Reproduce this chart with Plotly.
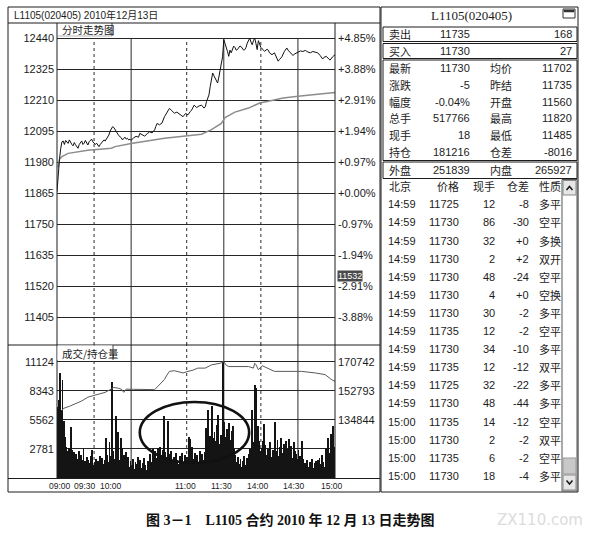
import plotly.graph_objects as go

W, H = 599, 536

# ---------------- data ----------------
header_text = "L1105(020405) 2010年12月13日"
price_panel_title = "分时走势图"
volume_panel_title = "成交/持仓量"
cursor_value = "11532"
caption_text = "<b>图 3－1　L1105 合约 2010 年 12 月 13 日走势图</b>"
watermark_text = "ZX110.com"

price_ticks = [12440, 12325, 12210, 12095, 11980, 11865, 11750, 11635, 11520, 11405]
pct_labels = ["+4.85%", "+3.88%", "+2.91%", "+1.94%", "+0.97%", "+0.00%",
              "-0.97%", "-1.94%", "-2.91%", "-3.88%"]
vol_ticks = [2781, 5562, 8343, 11124]
oi_ticks = [134844, 152793, 170742]
time_labels = ["09:00", "09:30", "10:00", "11:00", "11:30", "14:00", "14:30", "15:00"]

grid_solid_minutes = [60, 135, 195]
grid_dot_minutes = [30, 105, 165]

price_minutes = [0, 1, 2, 3, 4, 5, 6, 7, 8, 9, 10, 11, 12, 13, 14, 15, 16, 17, 18, 19,
                 20, 21, 22, 23, 24, 25, 26, 27, 28, 29, 30, 31, 32, 33, 34, 35, 36, 37, 38, 39,
                 40, 41, 42, 43, 44, 45, 46, 47, 48, 49, 50, 51, 52, 53, 54, 55, 56, 57, 58, 59,
                 60, 62, 64, 66, 67, 69, 71, 73, 75, 77, 79, 80, 81, 83, 85, 87, 89, 91, 93, 95,
                 97, 99, 101, 102, 104, 106, 108, 109, 111, 113, 115, 117, 119, 120, 121, 122, 123, 124, 125, 126,
                 127, 128, 129, 130, 131, 132, 133, 134, 135, 136, 137, 138, 139, 140, 141, 142, 143, 144, 145, 146,
                 147, 148, 149, 150, 151, 152, 153, 154, 155, 156, 157, 158, 159, 160, 161, 162, 163, 164, 165, 166,
                 167, 168, 170, 171, 172, 174, 176, 177, 179, 180, 182, 184, 186, 187, 189, 191, 192, 194, 196, 197,
                 199, 201, 203, 205, 207, 209, 211, 213, 215, 216, 218, 220, 221, 223, 225]
price_values = [11870, 11940, 11990, 12030, 12055, 12058, 12045, 12060, 12052, 12049,
                12062, 12050, 12045, 12040, 12052, 12044, 12036, 12031, 12045, 12052,
                12058, 12045, 12050, 12060, 12050, 12043, 12055, 12062, 12065, 12055,
                12050, 12045, 12050, 12042, 12037, 12045, 12050, 12055, 12062, 12058,
                12065, 12068, 12080, 12095, 12105, 12111, 12108, 12100, 12095, 12085,
                12078, 12074, 12070, 12062, 12066, 12072, 12065, 12068, 12062, 12065,
                12060, 12070, 12075, 12072, 12086, 12080, 12076, 12085, 12092, 12088,
                12099, 12112, 12123, 12118, 12125, 12148, 12165, 12179, 12170, 12161,
                12165, 12158, 12152, 12148, 12160, 12155, 12168, 12173, 12191, 12182,
                12188, 12191, 12180, 12185, 12204, 12215, 12229, 12260, 12290, 12310,
                12300, 12290, 12280, 12273, 12295, 12320, 12340, 12370, 12434, 12420,
                12409, 12390, 12372, 12395, 12385, 12400, 12410, 12405, 12395, 12397,
                12405, 12410, 12408, 12400, 12395, 12397, 12405, 12421, 12430, 12440,
                12425, 12415, 12430, 12440, 12420, 12397, 12430, 12415, 12405, 12400,
                12395, 12391, 12398, 12395, 12385, 12378, 12385, 12375, 12354, 12360,
                12370, 12390, 12403, 12395, 12385, 12375, 12380, 12385, 12390, 12392,
                12390, 12394, 12388, 12385, 12390, 12388, 12385, 12375, 12362, 12368,
                12372, 12362, 12358, 12370, 12378]

avg_minutes = [1, 2, 4, 9, 25, 44, 47, 60, 87, 117, 125, 130, 133, 136, 139, 144,
               155, 164, 171, 183, 197, 209, 225]
avg_values = [11960, 11990, 12000, 12012, 12024, 12031, 12037, 12049, 12068, 12083,
              12100, 12115, 12123, 12145, 12152, 12165, 12180, 12199, 12205, 12217,
              12225, 12230, 12238]

oi_minutes = [4, 5, 10, 15, 20, 25, 31, 39, 44, 46, 50, 52, 54, 56, 62, 69, 75, 79, 82, 85,
              87, 89, 91, 95, 99, 102, 106, 110, 114, 120, 125, 129, 132, 135, 137, 139, 147, 155, 159, 160,
              161, 163, 166, 176, 187, 198, 209, 217, 222, 225]
oi_values = [140500, 141844, 143200, 144836, 146500, 148844, 150200, 151835, 153900, 154827,
             154300, 153810, 151835, 153810, 153700, 153810, 153600, 153510, 155785, 158000,
             159793, 162500, 164759, 165178, 164300, 163802, 164759, 165500, 166793, 166793,
             168768, 169300, 169785, 170742, 168500, 167751, 167751, 167751, 166793, 169785,
             168900, 165776, 168300, 164759, 164759, 164759, 163802, 162785, 159793, 158597]

volume = [6800, 7500, 10000, 6500, 9400, 5500, 3900, 3000, 2600, 2900, 2200, 4900, 2700, 2500, 2100,
          2300, 1800, 2600, 1500, 2200, 1700, 2900, 1600, 1300, 2000, 1700, 1400, 2100, 2700, 1200,
          1500, 1800, 1200, 1600, 2100, 1400, 1900, 1300, 1700, 3800, 2200, 1500, 3400, 2100, 9200,
          2600, 1800, 5900, 2400, 4400, 1700, 3800, 2900, 1500, 2200, 2500, 1300, 2000, 1100, 1600,
          1200, 1800, 900, 1500, 1300, 2000, 1100, 1700, 1000, 1400, 1900, 1200, 800, 1600, 1300,
          2300, 1500, 2800, 2000, 2600, 1900, 2900, 2400, 3000, 2200, 2700, 5900, 2500, 2000, 5500,
          2300, 1800, 2600, 1600, 2000, 1500, 2400, 1700, 1300, 2100, 1800, 2400, 1400, 2200, 1600,
          2000, 3900, 3700, 2100, 3000, 1800, 2400, 1600, 2200, 1500, 2600, 1900, 2300, 1700, 2500,
          4800, 3000, 6500, 4000, 3200, 6900, 3800, 4400, 3500, 5100, 6000, 3300, 4100, 2800, 11124,
          5400, 3900, 4700, 3000, 5300, 3600, 4500, 5000, 2800, 2200, 1500, 2000, 1300, 1800, 1100,
          1600, 2100, 1200, 1900, 1400, 2300, 2800, 6500, 3400, 1800, 8900, 8600, 5000, 3500, 2600,
          2900, 3500, 5200, 3200, 2200, 2800, 2500, 3400, 2000, 2700, 2300, 5400, 2600, 3600, 2100,
          3000, 3800, 2400, 3300, 2000, 3500, 2800, 3700, 2200, 3100, 1900, 3400, 2600, 2300, 1800,
          2700, 2100, 1600, 3500, 1800, 1400, 1200, 1700, 1100, 1500, 1300, 1800, 1000, 1400, 1600,
          1200, 1700, 1900, 1300, 2200, 1500, 1100, 2900, 1600, 3800, 2400, 4200, 2800, 5000, 3000]

quote_title = "L1105(020405)"
quote_left_labels = ["卖出", "买入", "最新", "涨跌", "幅度", "总手", "现手", "持仓", "外盘"]
quote_left_values = ["11735", "11730", "11730", "-5", "-0.04%", "517766", "18", "181216", "251839"]
quote_right_labels = ["", "", "均价", "昨结", "开盘", "最高", "最低", "仓差", "内盘"]
quote_right_values = ["168", "27", "11702", "11735", "11560", "11820", "11485", "-8016", "265927"]

tick_header = ["北京", "价格", "现手", "仓差", "性质"]
tick_times = ["14:59"] * 12 + ["15:00"] * 4
tick_prices = ["11725", "11730", "11730", "11730", "11730", "11730", "11730", "11735",
               "11730", "11735", "11725", "11730", "11735", "11730", "11735", "11730"]
tick_vols = ["12", "86", "32", "2", "48", "4", "30", "12", "34", "12", "32", "48", "14", "2", "6", "18"]
tick_oi_chg = ["-8", "-30", "+0", "+2", "-24", "+0", "-2", "-2", "-10", "-12", "-22", "-44",
               "-12", "-2", "-2", "-4"]
tick_nature = ["多平", "空平", "多换", "双开", "空平", "空换", "多平", "空平",
               "多平", "双平", "多平", "多平", "空平", "双平", "空平", "多平"]

# ---------------- layout helpers (pixel -> paper) ----------------
def X(x):
    return x / W


def Y(y):
    return 1 - y / H


PLOT_L, PLOT_R = 57, 335
P_TOP, P_BOT = 23, 345
V_TOP, V_BOT = 345, 478
PX_P_FIRST, PX_P_STEP = 38, 31.0        # pixel of first price tick, pixel per tick step
PX_V_MAX = 361.7                         # pixel of top volume tick

p_step = price_ticks[0] - price_ticks[1]


def price_at(ypx):
    return price_ticks[0] - (ypx - PX_P_FIRST) * p_step / PX_P_STEP


p_range = [price_at(P_BOT), price_at(P_TOP)]
vol_per_px = vol_ticks[-1] / (V_BOT - PX_V_MAX)
v_range = [0, (V_BOT - V_TOP) * vol_per_px]
oi_per_vol = (oi_ticks[2] - oi_ticks[1]) / (vol_ticks[3] - vol_ticks[2])
oi_base = oi_ticks[2] - vol_ticks[3] * oi_per_vol
oi_range = [oi_base, oi_base + v_range[1] * oi_per_vol]
x_range = [0, 225]
bar_x = [i + 0.5 for i in range(len(volume))]

INK = "#1c1c1c"
NUMFONT = "Liberation Sans, Noto Sans CJK SC"
CJKFONT = "Noto Sans CJK SC"

fig = go.Figure()
fig.add_trace(go.Bar(x=bar_x, y=volume, xaxis="x2", yaxis="y3",
                     marker=dict(color="#141414", line=dict(width=0)), width=0.7,
                     hoverinfo="skip"))
fig.add_trace(go.Scatter(x=oi_minutes, y=oi_values, xaxis="x2", yaxis="y4", mode="lines",
                         line=dict(color="#5a5a5a", width=1), hoverinfo="skip"))
fig.add_trace(go.Scatter(x=avg_minutes, y=avg_values, xaxis="x", yaxis="y", mode="lines",
                         line=dict(color="#8c8c8c", width=1.5), hoverinfo="skip"))
fig.add_trace(go.Scatter(x=price_minutes, y=price_values, xaxis="x", yaxis="y", mode="lines",
                         line=dict(color="#111111", width=1), hoverinfo="skip"))
fig.add_trace(go.Scatter(x=[0], y=[price_ticks[0]], xaxis="x", yaxis="y2", mode="markers",
                         marker=dict(opacity=0), hoverinfo="skip"))

shapes = []


def pline(x0, y0, x1, y1, color=INK, width=1, dash="solid"):
    shapes.append(dict(type="line", xref="paper", yref="paper", x0=X(x0), y0=Y(y0),
                       x1=X(x1), y1=Y(y1), line=dict(color=color, width=width, dash=dash)))


def prect(x0, y0, x1, y1, color=INK, width=1, fill="rgba(0,0,0,0)"):
    shapes.append(dict(type="rect", xref="paper", yref="paper", x0=X(x0), y0=Y(y0),
                       x1=X(x1), y1=Y(y1), line=dict(color=color, width=width), fillcolor=fill))


def ppath(points, color=INK, width=1.3):
    d = "M " + " L ".join(f"{X(a):.5f},{Y(b):.5f}" for a, b in points)
    shapes.append(dict(type="path", xref="paper", yref="paper", path=d,
                       line=dict(color=color, width=width)))


# vertical grid lines
for m in grid_solid_minutes + grid_dot_minutes:
    dash = "solid" if m in grid_solid_minutes else "dot"
    shapes.append(dict(type="line", xref="x", yref="y", x0=m, x1=m, y0=p_range[0], y1=price_ticks[0],
                       line=dict(color="#2a2a2a", width=1, dash=dash), layer="below"))
    shapes.append(dict(type="line", xref="x2", yref="y3", x0=m, x1=m, y0=0, y1=v_range[1],
                       line=dict(color="#2a2a2a", width=1, dash=dash), layer="below"))

# left panel frame
prect(8, 7, 380, 492)
pline(8, 23, 380, 23)
pline(8, 345, 380, 345)
pline(8, 478.5, 380, 478.5)
pline(PLOT_L, 23, PLOT_L, 478.5)
pline(PLOT_R, 23, PLOT_R, 478.5)
pline(112, 23, 112, 36, width=0.8)
pline(PLOT_L, 36, 112, 36, color="#888", width=0.6)
shapes.append(dict(type="rect", xref="paper", yref="paper", x0=X(PLOT_L + 0.5), x1=X(113), y0=Y(360),
                   y1=Y(345.5), fillcolor="white", line=dict(width=0)))
pline(113, 345, 113, 360, width=0.8)

# ellipse highlight
shapes.append(dict(type="circle", xref="x2", yref="y3", x0=67, x1=155.5, y0=1430, y1=7270,
                   line=dict(color="#111", width=2.6)))

# right panel
prect(381, 7, 578, 492)
prect(383, 27, 577, 41.5)
prect(383, 43.5, 577, 58.5)
prect(383, 60, 577, 160.5)
prect(383, 162, 577, 178.5)
# window icon
prect(563, 9, 575, 18, color="#333", width=1, fill="white")
prect(564, 10, 574, 12, color="#333", width=0.5, fill="#333")
# scrollbar
prect(562, 179.5, 577, 491, color="#555", width=1, fill="white")
prect(563, 180.5, 576, 195, color="#888", width=1, fill="#e6e6e6")
ppath([(566.5, 190), (569.5, 186.5), (572.5, 190)], width=1.6)
prect(563, 458, 576, 474, color="#999", width=1, fill="#c8c8c8")
prect(563, 475, 576, 490, color="#888", width=1, fill="#e6e6e6")
ppath([(566.5, 480.5), (569.5, 484), (572.5, 480.5)], width=1.6)

annotations = []


def text(x, y, s, anchor="left", size=11, family=NUMFONT, color=INK, **kw):
    annotations.append(dict(xref="paper", yref="paper", x=X(x), y=Y(y), text=s, showarrow=False,
                            xanchor=anchor, yanchor="middle",
                            font=dict(size=size, family=family, color=color), **kw))


text(12, 15, header_text, size=10)
text(60, 29.5, price_panel_title, size=10.5, family=CJKFONT)
text(60, 353, volume_panel_title, size=10.5, family=CJKFONT)
text(337, 276, cursor_value, size=9, color="white", bgcolor="#4a4a4a", borderpad=0)

time_label_x = [59.5, 84.5, 111, 185, 221.5, 258, 294, 332]
for lx, lab in zip(time_label_x, time_labels):
    text(lx, 486, lab, anchor="center", size=8.5)

# quote block
text(471.5, 15.5, quote_title, anchor="center", size=13, family="Liberation Serif")
quote_row_y = [33.5, 51, 68.3, 85, 101.7, 118.3, 135, 151.7, 170.3]
for yy, a, b, c, d in zip(quote_row_y, quote_left_labels, quote_left_values,
                          quote_right_labels, quote_right_values):
    text(387, yy, a, size=11, family=CJKFONT)
    text(472, yy, b, anchor="right", size=11)
    if c:
        text(488, yy, c, size=11, family=CJKFONT)
    text(574, yy, d, anchor="right", size=11)

# tick list
text(387, 186, tick_header[0], size=11, family=CJKFONT)
text(461, 186, tick_header[1], anchor="right", size=11, family=CJKFONT)
text(497, 186, tick_header[2], anchor="right", size=11, family=CJKFONT)
text(531, 186, tick_header[3], anchor="right", size=11, family=CJKFONT)
text(537, 186, tick_header[4], size=11, family=CJKFONT)
for k in range(len(tick_times)):
    yy = 204.3 + k * 18.1
    text(386, yy, tick_times[k], size=11)
    text(461, yy, tick_prices[k], anchor="right", size=11)
    text(497, yy, tick_vols[k], anchor="right", size=11)
    text(531, yy, tick_oi_chg[k], anchor="right", size=11)
    text(537, yy, tick_nature[k], size=11, family=CJKFONT)

# caption & watermark
text(290, 520, caption_text, anchor="center", size=14, family="Liberation Serif, Noto Sans CJK SC",
     color="#111")
text(540, 520, watermark_text, anchor="center", size=15, family="DejaVu Sans", color="#dcdcdc")

axis_font = dict(size=11, family=NUMFONT, color=INK)
grid_kw = dict(showgrid=True, gridcolor="#262626", gridwidth=1.2, zeroline=False, ticks="",
               showline=False, tickfont=axis_font, ticklabelstandoff=2)
x_kw = dict(range=x_range, domain=[X(PLOT_L), X(PLOT_R)], showgrid=False, zeroline=False,
            showticklabels=False, ticks="", showline=False, fixedrange=True)

fig.update_layout(
    width=W, height=H, margin=dict(l=0, r=0, t=0, b=0),
    paper_bgcolor="white", plot_bgcolor="white", showlegend=False,
    font=dict(family=NUMFONT, color=INK),
    bargap=0,
    xaxis=dict(anchor="y", **x_kw),
    xaxis2=dict(anchor="y3", **x_kw),
    yaxis=dict(domain=[Y(P_BOT), Y(P_TOP)], range=p_range, tickvals=price_ticks,
               ticktext=[str(v) for v in price_ticks], side="left", anchor="x", **grid_kw),
    yaxis2=dict(overlaying="y", side="right", anchor="x", range=p_range, tickvals=price_ticks,
                ticktext=pct_labels, showgrid=False, zeroline=False, ticks="", showline=False,
                tickfont=axis_font, ticklabelstandoff=2),
    yaxis3=dict(domain=[Y(V_BOT), Y(V_TOP)], range=v_range, tickvals=vol_ticks,
                ticktext=[str(v) for v in vol_ticks], side="left", anchor="x2", **grid_kw),
    yaxis4=dict(overlaying="y3", side="right", anchor="x2", range=oi_range, tickvals=oi_ticks,
                ticktext=[str(v) for v in oi_ticks], showgrid=False, zeroline=False, ticks="",
                showline=False, tickfont=axis_font, ticklabelstandoff=2),
    shapes=shapes,
    annotations=annotations,
)

fig.write_html("out.html", config={"displayModeBar": False},
               post_script="document.body.style.margin='0px';document.body.style.overflow='hidden';")
